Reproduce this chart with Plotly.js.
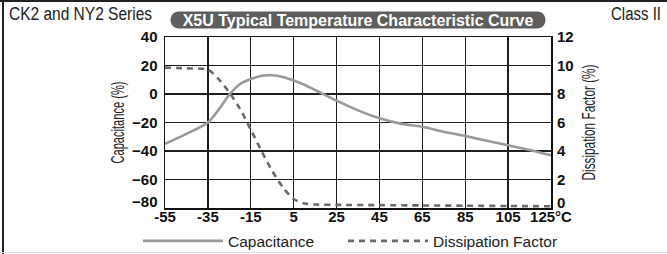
<!DOCTYPE html>
<html>
<head>
<meta charset="utf-8">
<script src="https://cdn.plot.ly/plotly-3.0.1.min.js"></script>
<style>
  html, body { margin: 0; padding: 0; background: #fff; }
  #wrap { position: relative; width: 667px; height: 254px; overflow: hidden; }
  #chart { position: absolute; left: 0; top: 0; width: 667px; height: 254px; }
  .frame { position: absolute; pointer-events: none; }
</style>
</head>
<body>
<div id="wrap">
  <div id="chart"></div>
  <div class="frame" style="left:0;top:0;width:667px;height:2px;background:#222;"></div>
  <div class="frame" style="left:2px;top:0;width:2px;height:254px;background:#222;"></div>
  <div class="frame" style="left:0;top:252px;width:667px;height:1px;background:#e2e2e2;"></div>
</div>
<script>
// ---- data ----
const capTemps = [-55, -45, -35, -30, -25, -20, -15, -10, -5, 0, 5, 10, 15, 25, 35, 45, 55, 65, 75, 85, 95, 105, 115, 125];
const capValues = [-35, -28, -20, -11, -0.5, 7, 10.5, 12.8, 13.2, 12, 9.5, 6.5, 2.8, -4.7, -11.5, -17, -20.8, -23, -26.5, -29.5, -32.8, -36, -39.3, -43];
const dfTemps = [-55, -45, -35, -30, -25, -20, -15, -10, -5, 0, 5, 10, 15, 25, 45, 65, 85, 105, 125];
const dfValues = [9.85, 9.8, 9.7, 9.05, 8.1, 6.95, 5.5, 4.0, 2.6, 1.45, 0.63, 0.32, 0.25, 0.22, 0.2, 0.18, 0.16, 0.14, 0.12];
const xTickVals = [-55, -35, -15, 5, 25, 45, 65, 85, 105, 125];
const xTickText = ['-55', '-35', '-15', '5', '25', '45', '65', '85', '105', '125°C'];
const yTickVals = [-80, -60, -40, -20, 0, 20, 40];
const y2TickVals = [0, 2, 4, 6, 8, 10, 12];
const seriesNames = ['Capacitance', 'Dissipation Factor'];
const chartTitle = 'X5U Typical Temperature Characteristic Curve';
const leftNote = 'CK2 and NY2 Series';
const rightNote = 'Class II';

const sans = '"Liberation Sans", Arial, Helvetica, sans-serif';

const traces = [
  {
    x: capTemps, y: capValues, name: seriesNames[0], type: 'scatter', mode: 'lines',
    line: { color: '#9a9a9a', width: 2.6, shape: 'spline', smoothing: 0.8 },
    yaxis: 'y', legend: 'legend'
  },
  {
    x: dfTemps, y: dfValues, name: seriesNames[1], type: 'scatter', mode: 'lines',
    line: { color: '#6a6a6a', width: 2.6, dash: '6px,5px', shape: 'spline', smoothing: 0.8 },
    yaxis: 'y2', legend: 'legend2'
  }
];

const gridColor = '#1e1e1e';
const tickFont = { family: sans, size: 15, color: '#111', weight: 'bold' };
const legendBase = {
  orientation: 'h', xref: 'paper', yref: 'paper', xanchor: 'left',
  y: (207.7 - 241) / 171, yanchor: 'middle',
  font: { family: sans, size: 15.5, color: '#222' },
  itemwidth: 80, bgcolor: 'rgba(0,0,0,0)'
};
const layout = {
  width: 667, height: 254,
  margin: { l: 165, r: 116, t: 37, b: 46, pad: 0, autoexpand: false },
  paper_bgcolor: '#fff', plot_bgcolor: '#fff',
  showlegend: true,
  title: {
    text: '<b>' + chartTitle + '</b>',
    font: { family: sans, size: 16, color: '#ffffff' },
    x: 0.5, xref: 'paper', xanchor: 'center',
    y: 1 - 20.5 / 254, yref: 'container', yanchor: 'middle'
  },
  xaxis: {
    range: [-55, 125], tickmode: 'array', tickvals: xTickVals, ticktext: xTickText,
    showgrid: true, gridcolor: gridColor, gridwidth: 1.3,
    showline: true, linecolor: '#111', linewidth: 1.5, mirror: true,
    zeroline: false, ticks: '', fixedrange: true, automargin: false,
    tickfont: tickFont, ticklabelstandoff: -6
  },
  yaxis: {
    range: [-80, 40], tickmode: 'array', tickvals: yTickVals,
    showgrid: true, gridcolor: gridColor, gridwidth: 1.3,
    showline: true, linecolor: '#111', linewidth: 1.5, mirror: true,
    zeroline: false, ticks: '', fixedrange: true, automargin: false,
    tickfont: tickFont, ticklabelstandoff: 3,
    title: { text: 'Capacitance (%)', font: { family: sans, size: 19, color: '#222' }, standoff: 2 }
  },
  yaxis2: {
    range: [0, 12], tickmode: 'array', tickvals: y2TickVals,
    overlaying: 'y', side: 'right', showgrid: false, zeroline: false,
    showline: false, ticks: '', fixedrange: true, automargin: false,
    tickfont: tickFont, ticklabelstandoff: 5,
    title: { text: 'Dissipation Factor (%)', font: { family: sans, size: 19, color: '#222' }, standoff: 9 }
  },
  legend: Object.assign({}, legendBase, { x: (138 - 165) / 386 }),
  legend2: Object.assign({}, legendBase, { x: (343 - 165) / 386 }),
  shapes: [
    {
      type: 'path', xref: 'paper', yref: 'paper', layer: 'above',
      xsizemode: 'pixel', ysizemode: 'pixel',
      xanchor: 0.5, yanchor: 1 + (37 - 20) / 171,
      path: 'M-179,-8.5 L179,-8.5 C190.3,-8.5 190.3,8.5 179,8.5 L-179,8.5 C-190.3,8.5 -190.3,-8.5 -179,-8.5 Z',
      fillcolor: '#5e5e5e', line: { width: 0 }
    }
  ],
  annotations: [
    {
      text: leftNote, xref: 'paper', yref: 'paper',
      x: (9 - 165) / 386, xanchor: 'left', y: 1 + (37 - 13.5) / 171, yanchor: 'middle',
      showarrow: false, font: { family: sans, size: 18, color: '#222' }
    },
    {
      text: rightNote, xref: 'paper', yref: 'paper',
      x: (661 - 165) / 386, xanchor: 'right', y: 1 + (37 - 13.5) / 171, yanchor: 'middle',
      showarrow: false, font: { family: sans, size: 18, color: '#222' }
    }
  ]
};

// condense texts that use a narrow face in the reference (no narrow font installed)
function condense(el, len, left, right) {
  if (!el) return;
  el.setAttribute('textLength', len);
  el.setAttribute('lengthAdjust', 'spacingAndGlyphs');
  if (left !== undefined || right !== undefined) {
    const r = el.getBoundingClientRect();
    const x = parseFloat(el.getAttribute('x') || '0');
    const dx = left !== undefined ? left - r.left : right - r.right;
    el.setAttribute('x', x + dx);
  }
}
function nudgeUp(el, dy) {
  if (!el) return;
  el.setAttribute('y', parseFloat(el.getAttribute('y') || '0') - dy);
}

Plotly.newPlot('chart', traces, layout, { staticPlot: true, displayModeBar: false }).then(function (gd) {
  const ann = gd.querySelectorAll('.annotation-text');
  condense(ann[0], 143, 9, undefined);
  condense(ann[1], 50, undefined, 661);
  condense(gd.querySelector('.ytitle'), 82);
  condense(gd.querySelector('.y2title'), 116);
  // lowest labels on both value axes sit a little higher, clear of the temperature labels
  nudgeUp(gd.querySelector('.ytick text'), 6);
  nudgeUp(gd.querySelector('.y2tick text'), 5);
});
</script>
</body>
</html>
